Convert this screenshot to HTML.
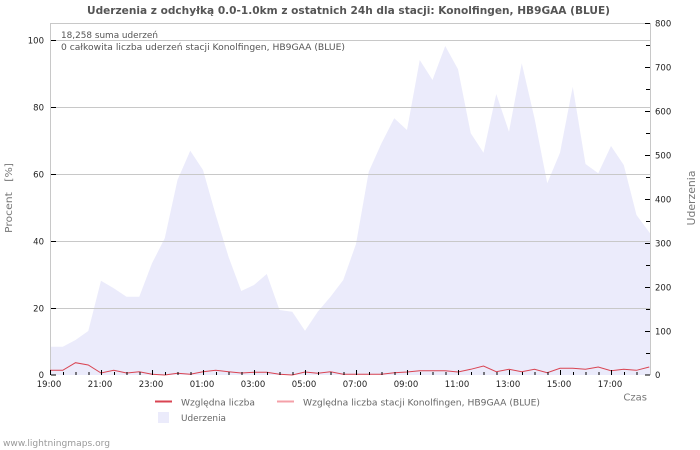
<!DOCTYPE html>
<html>
<head>
<meta charset="utf-8">
<style>
  html, body { margin:0; padding:0; background:#fff; }
  svg { display:block; font-family: "DejaVu Sans", "Liberation Sans", sans-serif; }
</style>
</head>
<body>
<svg width="700" height="450" viewBox="0 0 700 450" xmlns="http://www.w3.org/2000/svg">
  <rect x="0" y="0" width="700" height="450" fill="#ffffff"/>

  <!-- Title -->
  <text x="348.5" y="14" text-anchor="middle" font-size="11" font-weight="bold" fill="#555" textLength="523" lengthAdjust="spacingAndGlyphs">Uderzenia z odchyłką 0.0-1.0km z ostatnich 24h dla stacji: Konolfingen, HB9GAA (BLUE)</text>

  <!-- Area (Uderzenia) -->
  <path fill="#ebebfb" d="M50,375 L50,346.7 L62.75,346.7 L75.5,340 L88.25,331 L101,280.7 L113.75,288.3 L126.5,296.7 L139.25,296.7 L152,263.3 L164.75,238.3 L177.5,180 L190.25,150.7 L203,170 L215.75,215 L228.5,256.7 L241.25,291 L254,285 L266.75,274 L279.5,310 L292.25,311.7 L305,330.7 L317.75,311.7 L330.5,296.7 L343.25,280 L356,244 L368.75,171.7 L381.5,143.3 L394.25,118.3 L407,130 L419.75,60 L432.5,80 L445.25,46 L458,69.3 L470.75,133.3 L483.5,152.7 L496.25,94 L509,131.7 L521.75,63.3 L534.5,118.3 L547.25,183.3 L560,152.7 L572.75,86.7 L585.5,164 L598.25,173.3 L611,146 L623.75,165 L636.5,215 L650,233.3 L650,375 Z"/>

  <!-- Grid lines -->
  <g stroke="#c8c8c8" stroke-width="1" shape-rendering="crispEdges">
    <line x1="50" y1="23.5" x2="650" y2="23.5"/>
    <line x1="50" y1="40.5" x2="650" y2="40.5"/>
    <line x1="50" y1="107.5" x2="650" y2="107.5"/>
    <line x1="50" y1="174.5" x2="650" y2="174.5"/>
    <line x1="50" y1="241.5" x2="650" y2="241.5"/>
    <line x1="50" y1="308.5" x2="650" y2="308.5"/>
    <line x1="50.5" y1="23" x2="50.5" y2="375"/>
    <line x1="650.5" y1="23" x2="650.5" y2="375"/>
  </g>

  <!-- Red line (Względna liczba) -->
  <polyline fill="none" stroke="#d94452" stroke-width="1" points="50,370.3 62.75,370.3 75.5,362.7 88.25,365 101,373 113.75,370.3 126.5,373 139.25,371.7 152,374.3 164.75,375 177.5,373.3 190.25,374.3 203,371.7 215.75,370.3 228.5,371.7 241.25,373 254,372.3 266.75,372.3 279.5,374.3 292.25,375 305,372 317.75,373.3 330.5,371.7 343.25,374.3 356,374.3 368.75,374.3 381.5,374.3 394.25,372.7 407,372 419.75,370.7 432.5,370.7 445.25,370.7 458,372 470.75,369.3 483.5,366 496.25,371.7 509,369.3 521.75,371.7 534.5,369.3 547.25,372.7 560,368.3 572.75,368.3 585.5,369.3 598.25,367 611,370.7 623.75,369.3 636.5,370.3 649.25,367"/>

  <!-- Bottom ticks -->
  <g stroke="#000" stroke-width="1" shape-rendering="crispEdges">
    <line x1="50.5" y1="370" x2="50.5" y2="375"/>
    <line x1="63.25" y1="372" x2="63.25" y2="375"/>
    <line x1="76" y1="372" x2="76" y2="375"/>
    <line x1="88.75" y1="372" x2="88.75" y2="375"/>
    <line x1="101.5" y1="370" x2="101.5" y2="375"/>
    <line x1="114.25" y1="372" x2="114.25" y2="375"/>
    <line x1="127" y1="372" x2="127" y2="375"/>
    <line x1="139.75" y1="372" x2="139.75" y2="375"/>
    <line x1="152.5" y1="370" x2="152.5" y2="375"/>
    <line x1="165.25" y1="372" x2="165.25" y2="375"/>
    <line x1="178" y1="372" x2="178" y2="375"/>
    <line x1="190.75" y1="372" x2="190.75" y2="375"/>
    <line x1="203.5" y1="370" x2="203.5" y2="375"/>
    <line x1="216.25" y1="372" x2="216.25" y2="375"/>
    <line x1="229" y1="372" x2="229" y2="375"/>
    <line x1="241.75" y1="372" x2="241.75" y2="375"/>
    <line x1="254.5" y1="370" x2="254.5" y2="375"/>
    <line x1="267.25" y1="372" x2="267.25" y2="375"/>
    <line x1="280" y1="372" x2="280" y2="375"/>
    <line x1="292.75" y1="372" x2="292.75" y2="375"/>
    <line x1="305.5" y1="370" x2="305.5" y2="375"/>
    <line x1="318.25" y1="372" x2="318.25" y2="375"/>
    <line x1="331" y1="372" x2="331" y2="375"/>
    <line x1="343.75" y1="372" x2="343.75" y2="375"/>
    <line x1="356.5" y1="370" x2="356.5" y2="375"/>
    <line x1="369.25" y1="372" x2="369.25" y2="375"/>
    <line x1="382" y1="372" x2="382" y2="375"/>
    <line x1="394.75" y1="372" x2="394.75" y2="375"/>
    <line x1="407.5" y1="370" x2="407.5" y2="375"/>
    <line x1="420.25" y1="372" x2="420.25" y2="375"/>
    <line x1="433" y1="372" x2="433" y2="375"/>
    <line x1="445.75" y1="372" x2="445.75" y2="375"/>
    <line x1="458.5" y1="370" x2="458.5" y2="375"/>
    <line x1="471.25" y1="372" x2="471.25" y2="375"/>
    <line x1="484" y1="372" x2="484" y2="375"/>
    <line x1="496.75" y1="372" x2="496.75" y2="375"/>
    <line x1="509.5" y1="370" x2="509.5" y2="375"/>
    <line x1="522.25" y1="372" x2="522.25" y2="375"/>
    <line x1="535" y1="372" x2="535" y2="375"/>
    <line x1="547.75" y1="372" x2="547.75" y2="375"/>
    <line x1="560.5" y1="370" x2="560.5" y2="375"/>
    <line x1="573.25" y1="372" x2="573.25" y2="375"/>
    <line x1="586" y1="372" x2="586" y2="375"/>
    <line x1="598.75" y1="372" x2="598.75" y2="375"/>
    <line x1="611.5" y1="370" x2="611.5" y2="375"/>
    <line x1="624.25" y1="372" x2="624.25" y2="375"/>
    <line x1="637" y1="372" x2="637" y2="375"/>
  </g>

  <!-- Left ticks -->
  <g stroke="#000" stroke-width="1" shape-rendering="crispEdges">
    <line x1="51" y1="375" x2="56" y2="375"/>
    <line x1="51" y1="308.5" x2="56" y2="308.5"/>
    <line x1="51" y1="241.5" x2="56" y2="241.5"/>
    <line x1="51" y1="174.5" x2="56" y2="174.5"/>
    <line x1="51" y1="107.5" x2="56" y2="107.5"/>
    <line x1="51" y1="40.5" x2="56" y2="40.5"/>
  </g>

  <!-- Right ticks -->
  <g stroke="#000" stroke-width="1" shape-rendering="crispEdges">
    <line x1="645" y1="375" x2="650" y2="375"/>
    <line x1="646" y1="353.5" x2="650" y2="353.5"/>
    <line x1="645" y1="331.5" x2="650" y2="331.5"/>
    <line x1="646" y1="309.5" x2="650" y2="309.5"/>
    <line x1="645" y1="287.5" x2="650" y2="287.5"/>
    <line x1="646" y1="265.5" x2="650" y2="265.5"/>
    <line x1="645" y1="243.5" x2="650" y2="243.5"/>
    <line x1="646" y1="221.5" x2="650" y2="221.5"/>
    <line x1="645" y1="199.5" x2="650" y2="199.5"/>
    <line x1="646" y1="177.5" x2="650" y2="177.5"/>
    <line x1="645" y1="155.5" x2="650" y2="155.5"/>
    <line x1="646" y1="133.5" x2="650" y2="133.5"/>
    <line x1="645" y1="111.5" x2="650" y2="111.5"/>
    <line x1="646" y1="89.5" x2="650" y2="89.5"/>
    <line x1="645" y1="67.5" x2="650" y2="67.5"/>
    <line x1="646" y1="45.5" x2="650" y2="45.5"/>
    <line x1="645" y1="23.5" x2="650" y2="23.5"/>
  </g>

  <!-- Left tick labels -->
  <g font-size="8.5" fill="#222" text-anchor="end">
    <text x="44" y="378">0</text>
    <text x="44" y="311.5">20</text>
    <text x="44" y="244.5">40</text>
    <text x="44" y="177.5">60</text>
    <text x="44" y="110.5">80</text>
    <text x="44" y="43.5">100</text>
  </g>

  <!-- Right tick labels -->
  <g font-size="8.5" fill="#222" text-anchor="start">
    <text x="655" y="378">0</text>
    <text x="655" y="334.5">100</text>
    <text x="655" y="290.5">200</text>
    <text x="655" y="246.5">300</text>
    <text x="655" y="202.5">400</text>
    <text x="655" y="158.5">500</text>
    <text x="655" y="114.5">600</text>
    <text x="655" y="70.5">700</text>
    <text x="655" y="26.5">800</text>
  </g>

  <!-- Bottom tick labels -->
  <g font-size="8.5" fill="#222" text-anchor="middle">
    <text x="49" y="387">19:00</text>
    <text x="100" y="387">21:00</text>
    <text x="151" y="387">23:00</text>
    <text x="202" y="387">01:00</text>
    <text x="253" y="387">03:00</text>
    <text x="304" y="387">05:00</text>
    <text x="355" y="387">07:00</text>
    <text x="406" y="387">09:00</text>
    <text x="457" y="387">11:00</text>
    <text x="508" y="387">13:00</text>
    <text x="559" y="387">15:00</text>
    <text x="610" y="387">17:00</text>
  </g>

  <!-- Annotations -->
  <text x="61" y="38" font-size="9" fill="#555" textLength="97" lengthAdjust="spacingAndGlyphs">18,258 suma uderzeń</text>
  <text x="61" y="50" font-size="9" fill="#555" textLength="284" lengthAdjust="spacingAndGlyphs">0 całkowita liczba uderzeń stacji Konolfingen, HB9GAA (BLUE)</text>

  <!-- Axis titles -->
  <text transform="translate(12,198) rotate(-90)" text-anchor="middle" font-size="10" fill="#777" xml:space="preserve" textLength="70" lengthAdjust="spacingAndGlyphs">Procent   [%]</text>
  <text transform="translate(695,198) rotate(-90)" text-anchor="middle" font-size="11" fill="#777" textLength="55" lengthAdjust="spacingAndGlyphs">Uderzenia</text>
  <text x="647" y="400.5" text-anchor="end" font-size="10" fill="#777">Czas</text>

  <!-- Legend -->
  <line x1="155" y1="401.5" x2="172" y2="401.5" stroke="#d94452" stroke-width="2"/>
  <text x="181" y="405.5" font-size="9" fill="#666" textLength="74" lengthAdjust="spacingAndGlyphs">Względna liczba</text>
  <line x1="277" y1="401.5" x2="294" y2="401.5" stroke="#f4a0a8" stroke-width="2"/>
  <text x="303" y="405.5" font-size="9" fill="#666" textLength="237" lengthAdjust="spacingAndGlyphs">Względna liczba stacji Konolfingen, HB9GAA (BLUE)</text>
  <rect x="158" y="412" width="11" height="11" fill="#ebebfb"/>
  <text x="181" y="421" font-size="9" fill="#666" textLength="45" lengthAdjust="spacingAndGlyphs">Uderzenia</text>

  <!-- Footer -->
  <text x="3" y="446" font-size="9" fill="#999" textLength="107" lengthAdjust="spacingAndGlyphs">www.lightningmaps.org</text>
</svg>
</body>
</html>
